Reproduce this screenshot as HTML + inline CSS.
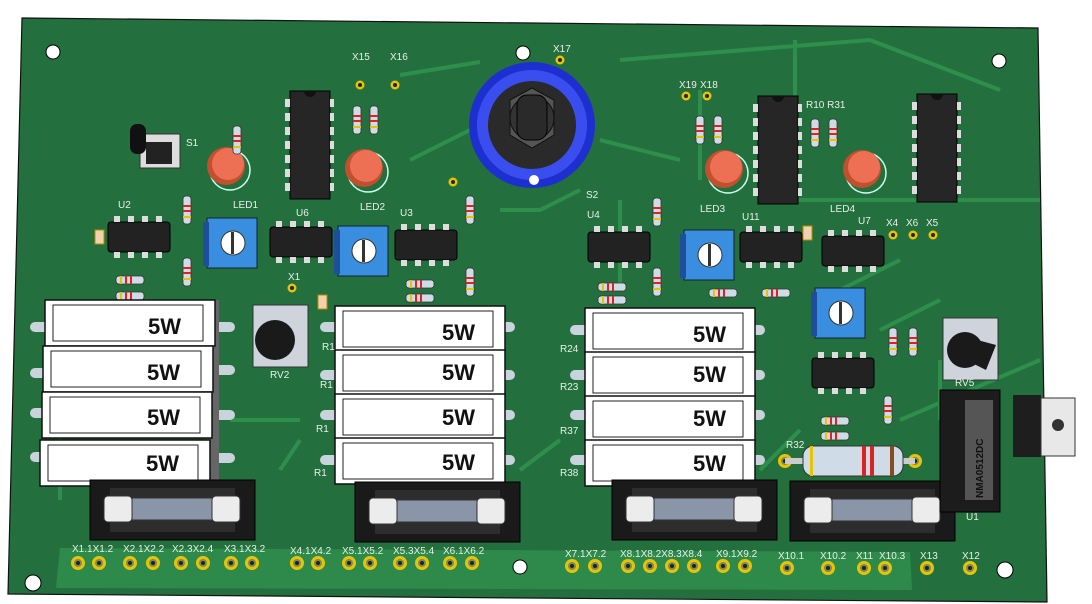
<!DOCTYPE html>
<html><head><meta charset="utf-8"><style>
html,body{margin:0;padding:0;background:#fff;width:1092px;height:604px;overflow:hidden}
svg{display:block;font-family:"Liberation Sans",sans-serif}
.lbl{fill:#e8efe8;font-size:10px}
.w{font-family:"Liberation Sans",sans-serif;font-weight:bold;font-size:22px;fill:#111}
</style></head><body>
<svg width="1092" height="604" viewBox="0 0 1092 604" xmlns="http://www.w3.org/2000/svg">
<defs>
<g id="pad"><circle r="7" fill="#e8c400"/><circle r="4" fill="#7a8a60"/><circle r="2" fill="#222"/></g>
<g id="sp"><circle r="4.5" fill="#e8c400"/><circle r="2" fill="#222"/></g>
<g id="rh"><rect x="-4" y="-14" width="8" height="28" rx="3" fill="#cfdbe6" stroke="#333" stroke-width=".8"/><rect x="-4" y="-5" width="8" height="2" fill="#d22"/><rect x="-4" y="0" width="8" height="2" fill="#d22"/><rect x="-4" y="6" width="8" height="2" fill="#e8c400"/></g>
<g id="rv"><rect x="-14" y="-4" width="28" height="8" rx="3" fill="#cfdbe6" stroke="#333" stroke-width=".8"/><rect x="-5" y="-4" width="2" height="8" fill="#d22"/><rect x="0" y="-4" width="2" height="8" fill="#d22"/><rect x="-10" y="-4" width="2" height="8" fill="#e8c400"/></g>
<g id="dip8"><rect x="0" y="0" width="62" height="30" rx="3" fill="#222" stroke="#000"/><g fill="#ddd"><rect x="6" y="-6" width="6" height="6"/><rect x="20" y="-6" width="6" height="6"/><rect x="34" y="-6" width="6" height="6"/><rect x="48" y="-6" width="6" height="6"/><rect x="6" y="30" width="6" height="6"/><rect x="20" y="30" width="6" height="6"/><rect x="34" y="30" width="6" height="6"/><rect x="48" y="30" width="6" height="6"/></g></g>
<g id="trim"><rect x="0" y="0" width="50" height="50" fill="#3a8ee0" stroke="#123" /><rect x="-4" y="4" width="6" height="44" fill="#1f4f9a"/><circle cx="26" cy="25" r="12" fill="#fff" stroke="#333"/><rect x="24" y="14" width="3" height="22" fill="#333"/></g>
<g id="dip14"><rect x="0" y="0" width="40" height="108" fill="#262626" stroke="#000"/><path d="M14 0 a6 6 0 0 0 12 0" fill="#111"/><g fill="#ddd"><rect x="-5" y="8" width="5" height="8"/><rect x="-5" y="22" width="5" height="8"/><rect x="-5" y="36" width="5" height="8"/><rect x="-5" y="50" width="5" height="8"/><rect x="-5" y="64" width="5" height="8"/><rect x="-5" y="78" width="5" height="8"/><rect x="-5" y="92" width="5" height="8"/><rect x="40" y="8" width="4" height="8"/><rect x="40" y="22" width="4" height="8"/><rect x="40" y="36" width="4" height="8"/><rect x="40" y="50" width="4" height="8"/><rect x="40" y="64" width="4" height="8"/><rect x="40" y="78" width="4" height="8"/><rect x="40" y="92" width="4" height="8"/></g></g>
<g id="led"><circle cx="0" cy="0" r="20" fill="none" stroke="#cfe" stroke-width="1.5"/><circle cx="-4" cy="-4" r="19" fill="#c0502e"/><circle cx="-2" cy="-6" r="16" fill="#ee7054"/></g>
<g id="res5"><rect x="0" y="0" width="170" height="46" fill="#fff" stroke="#111" stroke-width="1.5"/><rect x="8" y="5" width="150" height="36" fill="#fff" stroke="#222"/></g>
<g id="fuse"><rect x="0" y="0" width="165" height="60" fill="#1a1a1a" stroke="#000"/><rect x="20" y="8" width="125" height="44" fill="#2d2d2d"/><rect x="14" y="16" width="28" height="26" rx="4" fill="#ececec" stroke="#333"/><rect x="42" y="18" width="82" height="22" fill="#8a96a8" stroke="#333"/><rect x="122" y="16" width="28" height="26" rx="4" fill="#ececec" stroke="#333"/></g>
</defs>

<polygon points="22,18 1038,28 1047,602 8,594" fill="#23703e" stroke="#111" stroke-width="1.2"/>
<polygon points="60,548 910,552 912,590 56,588" fill="#2d8a4a"/>
<!-- traces -->
<g stroke="#2e8f4c" stroke-width="4" fill="none">
<path d="M400 75 L480 62 M620 60 L870 40 L1000 90 M795 40 L795 120 M700 90 L700 180 M410 160 L470 130 M600 140 L680 160 M500 210 L540 210 L580 190 M780 200 L1040 200 M820 300 L900 260 M880 330 L940 300 M760 470 L800 430 M520 470 L560 440 M230 420 L300 420 M280 470 L300 440 M60 500 L60 430 M620 200 L620 290 M940 420 L940 360 M1040 360 L900 420"/>
</g>
<!-- holes -->
<circle cx="53" cy="52" r="7" fill="#fff" stroke="#000"/>
<circle cx="523" cy="53" r="7" fill="#fff" stroke="#000"/>
<circle cx="999" cy="61" r="7" fill="#fff" stroke="#000"/>
<circle cx="33" cy="583" r="8" fill="#fff" stroke="#000"/>
<circle cx="520" cy="567" r="7" fill="#fff" stroke="#000"/>
<circle cx="1005" cy="570" r="8" fill="#fff" stroke="#000"/>

<!-- S1 -->
<rect x="140" y="134" width="40" height="34" fill="#ddd" stroke="#333"/><rect x="130" y="124" width="16" height="30" rx="7" fill="#111"/><rect x="146" y="142" width="26" height="22" fill="#222"/>
<text class="lbl" x="186" y="146" font-size="8">S1</text>

<!-- LEDs -->
<use href="#led" x="230" y="170"/><text class="lbl" x="233" y="208" font-size="8">LED1</text>
<use href="#led" x="368" y="172"/><text class="lbl" x="360" y="210" font-size="8">LED2</text>
<use href="#led" x="728" y="173"/><text class="lbl" x="700" y="212" font-size="8">LED3</text>
<use href="#led" x="866" y="173"/><text class="lbl" x="830" y="212" font-size="8">LED4</text>

<!-- DIP14 -->
<use href="#dip14" x="290" y="91"/>
<use href="#dip14" x="758" y="96"/>
<use href="#dip14" x="917" y="94"/>

<!-- small resistors vertical -->
<use href="#rh" x="237" y="140"/><use href="#rh" x="357" y="120"/><use href="#rh" x="374" y="120"/>
<use href="#rh" x="700" y="130"/><use href="#rh" x="718" y="130"/><use href="#rh" x="815" y="133"/><use href="#rh" x="833" y="133"/>
<use href="#rh" x="187" y="210"/><use href="#rh" x="187" y="272"/><use href="#rh" x="470" y="210"/><use href="#rh" x="470" y="282"/>
<use href="#rh" x="657" y="212"/><use href="#rh" x="657" y="282"/><use href="#rh" x="893" y="342"/><use href="#rh" x="913" y="342"/><use href="#rh" x="888" y="410"/>
<!-- horizontal -->
<use href="#rv" x="130" y="280"/><use href="#rv" x="130" y="296"/><use href="#rv" x="420" y="284"/><use href="#rv" x="420" y="298"/>
<use href="#rv" x="612" y="287"/><use href="#rv" x="612" y="300"/><use href="#rv" x="723" y="293"/><use href="#rv" x="776" y="293"/>
<use href="#rv" x="835" y="421"/><use href="#rv" x="835" y="436"/>

<!-- DIP8 -->
<use href="#dip8" x="108" y="222"/><use href="#dip8" x="270" y="227"/><use href="#dip8" x="395" y="230"/>
<use href="#dip8" x="588" y="232"/><use href="#dip8" x="740" y="232"/><use href="#dip8" x="822" y="236"/><use href="#dip8" x="812" y="358"/>
<text class="lbl" x="118" y="208" font-size="8">U2</text><text class="lbl" x="296" y="216" font-size="8">U6</text><text class="lbl" x="400" y="216" font-size="8">U3</text>
<text class="lbl" x="587" y="218" font-size="8">U4</text><text class="lbl" x="742" y="220" font-size="8">U11</text><text class="lbl" x="858" y="224" font-size="8">U7</text>

<!-- caps -->
<rect x="95" y="230" width="9" height="14" fill="#f0d2b0" stroke="#b80"/><rect x="318" y="295" width="9" height="14" fill="#f0d2b0" stroke="#b80"/><rect x="803" y="226" width="9" height="14" fill="#f0d2b0" stroke="#b80"/>

<!-- trimmers -->
<use href="#trim" x="207" y="218"/><use href="#trim" x="338" y="226"/><use href="#trim" x="684" y="230"/><use href="#trim" x="815" y="288"/>

<!-- knob -->
<circle cx="532" cy="125" r="63" fill="#1e2fd0"/><circle cx="532" cy="125" r="55" fill="#3a4ef0"/><circle cx="532" cy="125" r="44" fill="#2a2a2a"/>
<polygon points="510,100 532,88 554,100 554,135 532,148 510,135" fill="#555" stroke="#111"/><circle cx="532" cy="118" r="22" fill="#333" stroke="#111"/><rect x="517" y="95" width="30" height="45" rx="10" fill="#2a2a2a" stroke="#000"/>
<circle cx="534" cy="180" r="5" fill="#fff"/>
<text class="lbl" x="586" y="198" font-size="8">S2</text>

<!-- pots -->
<rect x="253" y="305" width="55" height="62" fill="#cfd4dc" stroke="#333"/><circle cx="275" cy="340" r="20" fill="#1a1a1a"/><text class="lbl" x="270" y="378" font-size="8">RV2</text>
<rect x="943" y="318" width="55" height="62" fill="#cfd4dc" stroke="#333"/><circle cx="965" cy="350" r="18" fill="#1a1a1a"/><path d="M970 338 L996 345 L986 370 L970 362Z" fill="#1a1a1a"/><text class="lbl" x="955" y="386" font-size="8">RV5</text>

<!-- 5W resistors -->
<g><rect x="30" y="322" width="20" height="10" rx="5" fill="#c9d3dc"/><rect x="30" y="368" width="20" height="10" rx="5" fill="#c9d3dc"/><rect x="30" y="408" width="20" height="10" rx="5" fill="#c9d3dc"/><rect x="30" y="452" width="20" height="10" rx="5" fill="#c9d3dc"/>
<rect x="210" y="322" width="25" height="10" rx="5" fill="#c9d3dc"/><rect x="210" y="365" width="25" height="10" rx="5" fill="#c9d3dc"/><rect x="210" y="410" width="25" height="10" rx="5" fill="#c9d3dc"/><rect x="210" y="453" width="25" height="10" rx="5" fill="#c9d3dc"/></g>
<rect x="203" y="300" width="16" height="185" fill="#666"/>
<use href="#res5" x="45" y="300"/><use href="#res5" x="43" y="346"/><use href="#res5" x="42" y="392"/><use href="#res5" x="40" y="440"/>
<text class="w" x="148" y="334">5W</text><text class="w" x="147" y="380">5W</text><text class="w" x="147" y="425">5W</text><text class="w" x="146" y="471">5W</text>

<g fill="#c9d3dc"><rect x="320" y="322" width="20" height="10" rx="5"/><rect x="320" y="370" width="20" height="10" rx="5"/><rect x="320" y="410" width="20" height="10" rx="5"/><rect x="320" y="455" width="20" height="10" rx="5"/><rect x="495" y="322" width="20" height="10" rx="5"/><rect x="495" y="370" width="20" height="10" rx="5"/><rect x="495" y="410" width="20" height="10" rx="5"/><rect x="495" y="455" width="20" height="10" rx="5"/></g>
<use href="#res5" x="335" y="306"/><use href="#res5" x="335" y="350"/><use href="#res5" x="335" y="394"/><use href="#res5" x="335" y="438"/>
<text class="w" x="442" y="340">5W</text><text class="w" x="442" y="380">5W</text><text class="w" x="442" y="425">5W</text><text class="w" x="442" y="470">5W</text>
<text class="lbl" x="322" y="350" font-size="13">R1</text><text class="lbl" x="320" y="388" font-size="13">R1</text><text class="lbl" x="316" y="432" font-size="13">R1</text><text class="lbl" x="314" y="476" font-size="13">R1</text>

<g fill="#c9d3dc"><rect x="570" y="325" width="20" height="10" rx="5"/><rect x="570" y="370" width="20" height="10" rx="5"/><rect x="570" y="410" width="20" height="10" rx="5"/><rect x="570" y="455" width="20" height="10" rx="5"/><rect x="745" y="325" width="20" height="10" rx="5"/><rect x="745" y="370" width="20" height="10" rx="5"/><rect x="745" y="410" width="20" height="10" rx="5"/><rect x="745" y="455" width="20" height="10" rx="5"/></g>
<use href="#res5" x="585" y="308"/><use href="#res5" x="585" y="352"/><use href="#res5" x="585" y="396"/><use href="#res5" x="585" y="440"/>
<text class="w" x="693" y="342">5W</text><text class="w" x="693" y="382">5W</text><text class="w" x="693" y="426">5W</text><text class="w" x="693" y="471">5W</text>
<text class="lbl" x="560" y="352" font-size="13">R24</text><text class="lbl" x="560" y="390" font-size="13">R23</text><text class="lbl" x="560" y="434" font-size="13">R37</text><text class="lbl" x="560" y="476" font-size="13">R38</text>

<!-- R32 -->
<use href="#pad" x="785" y="461"/><use href="#pad" x="915" y="461"/>
<rect x="785" y="458" width="130" height="6" fill="#ccc"/>
<rect x="803" y="446" width="100" height="30" rx="10" fill="#cfdbe6" stroke="#333"/><rect x="810" y="446" width="3" height="30" fill="#e8c400"/><rect x="862" y="446" width="4" height="30" fill="#d22"/><rect x="870" y="446" width="4" height="30" fill="#d22"/><rect x="890" y="446" width="4" height="30" fill="#8a4a20"/>
<text class="lbl" x="786" y="448" font-size="10">R32</text>

<!-- fuses -->
<use href="#fuse" x="90" y="480"/><use href="#fuse" x="355" y="482"/><use href="#fuse" x="612" y="480"/><use href="#fuse" x="790" y="481"/>

<!-- U1 + regulator -->
<rect x="940" y="390" width="60" height="122" fill="#1c1c1c" stroke="#000"/><rect x="965" y="400" width="28" height="100" fill="#555"/>
<text x="0" y="0" transform="translate(983,498) rotate(-90)" font-size="10" font-weight="bold" fill="#111">NMA0512DC</text>
<rect x="1013" y="395" width="28" height="62" fill="#1e1e1e"/><rect x="1041" y="398" width="34" height="58" fill="#e8e8e8" stroke="#333"/><circle cx="1058" cy="425" r="6" fill="#333"/>

<!-- bottom pads -->
<g>
<use href="#pad" x="78" y="563"/><use href="#pad" x="99" y="563"/><use href="#pad" x="130" y="563"/><use href="#pad" x="153" y="563"/><use href="#pad" x="181" y="563"/><use href="#pad" x="203" y="563"/><use href="#pad" x="231" y="563"/><use href="#pad" x="252" y="563"/>
<use href="#pad" x="297" y="563"/><use href="#pad" x="318" y="563"/><use href="#pad" x="349" y="563"/><use href="#pad" x="370" y="563"/><use href="#pad" x="400" y="563"/><use href="#pad" x="422" y="563"/><use href="#pad" x="450" y="563"/><use href="#pad" x="472" y="563"/>
<use href="#pad" x="572" y="566"/><use href="#pad" x="595" y="566"/><use href="#pad" x="628" y="566"/><use href="#pad" x="650" y="566"/><use href="#pad" x="672" y="566"/><use href="#pad" x="694" y="566"/><use href="#pad" x="723" y="566"/><use href="#pad" x="745" y="566"/>
<use href="#pad" x="787" y="568"/><use href="#pad" x="828" y="568"/><use href="#pad" x="864" y="568"/><use href="#pad" x="885" y="568"/><use href="#pad" x="927" y="568"/><use href="#pad" x="970" y="568"/>
</g>
<g class="lbl" font-size="10">
<text x="72" y="552" class="lbl">X1.1X1.2</text><text x="123" y="552" class="lbl">X2.1X2.2</text><text x="172" y="552" class="lbl">X2.3X2.4</text><text x="224" y="552" class="lbl">X3.1X3.2</text>
<text x="290" y="554" class="lbl">X4.1X4.2</text><text x="342" y="554" class="lbl">X5.1X5.2</text><text x="393" y="554" class="lbl">X5.3X5.4</text><text x="443" y="554" class="lbl">X6.1X6.2</text>
<text x="565" y="557" class="lbl">X7.1X7.2</text><text x="620" y="557" class="lbl">X8.1X8.2X8.3X8.4</text><text x="716" y="557" class="lbl">X9.1X9.2</text>
<text x="778" y="559" class="lbl">X10.1</text><text x="820" y="559" class="lbl">X10.2</text><text x="856" y="559" class="lbl">X11</text><text x="879" y="559" class="lbl">X10.3</text><text x="920" y="559" class="lbl">X13</text><text x="962" y="559" class="lbl">X12</text>
</g>
<!-- top small pads -->
<use href="#sp" x="360" y="85"/><use href="#sp" x="395" y="85"/><use href="#sp" x="560" y="60"/><use href="#sp" x="686" y="96"/><use href="#sp" x="707" y="96"/><use href="#sp" x="453" y="182"/>
<use href="#sp" x="893" y="235"/><use href="#sp" x="913" y="235"/><use href="#sp" x="933" y="235"/><use href="#sp" x="292" y="288"/>
<text class="lbl" x="352" y="60" font-size="8">X15</text><text class="lbl" x="390" y="60" font-size="8">X16</text><text class="lbl" x="553" y="52" font-size="8">X17</text>
<text class="lbl" x="679" y="88" font-size="8">X19</text><text class="lbl" x="700" y="88" font-size="8">X18</text><text class="lbl" x="886" y="226" font-size="8">X4</text><text class="lbl" x="906" y="226" font-size="8">X6</text><text class="lbl" x="926" y="226" font-size="8">X5</text>
<text class="lbl" x="806" y="108" font-size="8">R10 R31</text><text class="lbl" x="288" y="280" font-size="8">X1</text>
<text class="lbl" x="966" y="520" font-size="9">U1</text>
</svg>
</body></html>
